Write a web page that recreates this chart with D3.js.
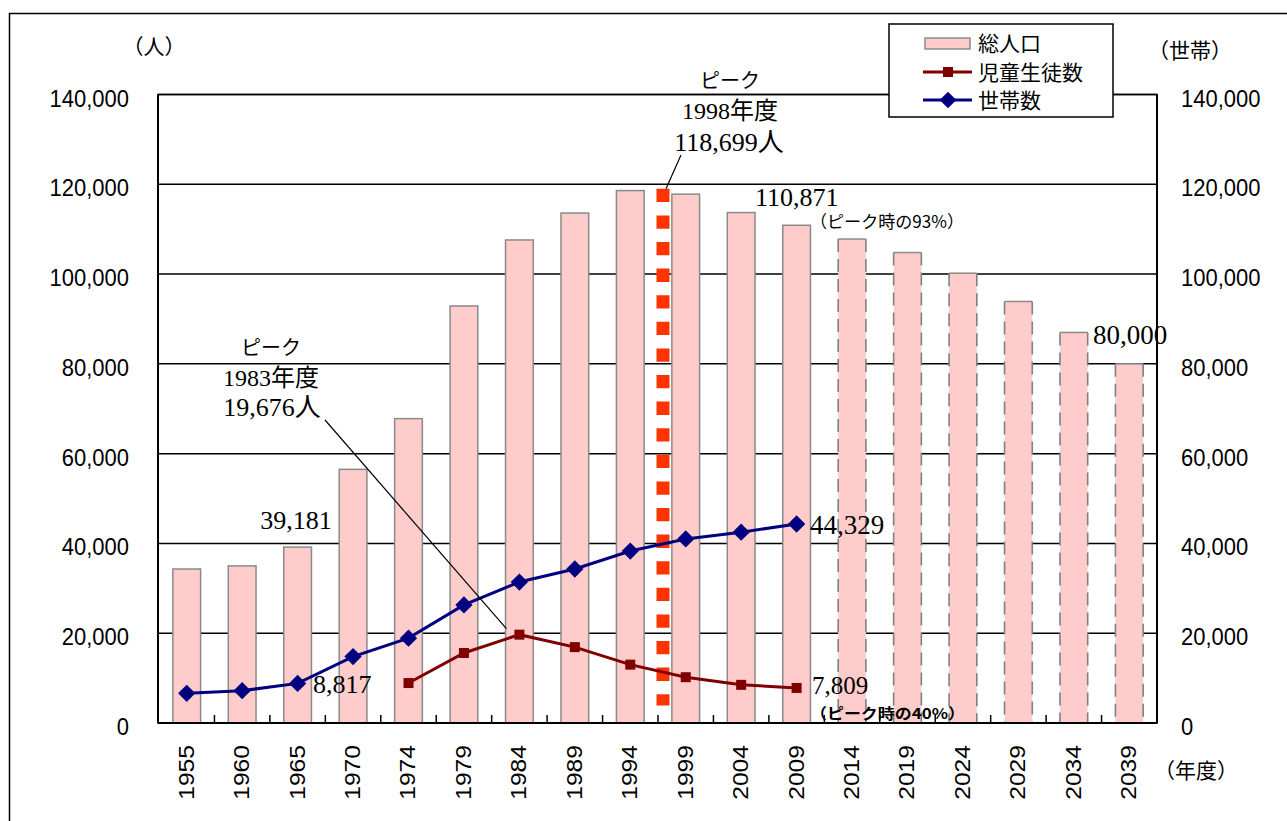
<!DOCTYPE html>
<html lang="ja">
<head>
<meta charset="utf-8">
<script src="https://cdn.jsdelivr.net/npm/d3@7"></script>
<style>
  html, body { margin: 0; padding: 0; background: #fff; }
  svg { display: block; }
  .sans { font-family: "Liberation Sans", Arial, "Noto Sans CJK JP", sans-serif; }
  .jp { font-family: "Noto Sans CJK JP", sans-serif; }
  .serif { font-family: "Liberation Serif", "Times New Roman", "Noto Sans CJK JP", serif; }
</style>
</head>
<body>
<svg id="chart" width="1287" height="821"></svg>
<script>
// 年度（5年ごと）
const years = ["1955","1960","1965","1970","1974","1979","1984","1989","1994","1999",
               "2004","2009","2014","2019","2024","2029","2034","2039"];
// 総人口（人） 2014年度以降は推計
const population = [34300, 35000, 39181, 56500, 67800, 92900, 107600, 113600, 118600, 117800,
                    113700, 110871, 107800, 104800, 100200, 93900, 87000, 80000];
const firstProjected = "2014";
// 児童生徒数（人）
const studentYears = ["1974","1979","1984","1989","1994","1999","2004","2009"];
const students = [8900, 15600, 19676, 16900, 13000, 10200, 8500, 7809];
// 世帯数（世帯）
const householdYears = ["1955","1960","1965","1970","1974","1979","1984","1989","1994","1999","2004","2009"];
const households = [6600, 7200, 8817, 14800, 18900, 26300, 31400, 34300, 38300, 41000, 42500, 44329];
// 目盛
const yTicks = [0, 20000, 40000, 60000, 80000, 100000, 120000, 140000];

const svg = d3.select("#chart");
const M = { left: 158, right: 1157, top: 94.5, bottom: 723 };

const x = d3.scaleBand().domain(years).range([M.left + 1, M.right])
  .paddingInner(0.5).paddingOuter(0.25);
const xc = d => x(d) + x.bandwidth() / 2;
const y = d3.scaleLinear().domain([0, 140000]).range([M.bottom, M.top]);
const fmt = d3.format(",");

// 外枠
svg.append("rect").attr("x", 9.5).attr("y", 13.5).attr("width", 1300).attr("height", 900)
  .attr("fill", "none").attr("stroke", "#000").attr("stroke-width", 1.5);

// 横グリッド
svg.append("g").selectAll("line").data(yTicks.slice(1)).join("line")
  .attr("x1", M.left).attr("x2", M.right)
  .attr("y1", d => y(d)).attr("y2", d => y(d))
  .attr("stroke", "#000").attr("stroke-width", 1.5);

// 総人口の棒
const bars = svg.append("g");
const isProjected = d => +d >= +firstProjected;
const barData = years.map((yr, i) => ({ yr, v: population[i] }));
bars.selectAll("rect").data(barData).join("rect")
  .attr("x", d => x(d.yr)).attr("width", x.bandwidth())
  .attr("y", d => y(d.v)).attr("height", d => y(0) - y(d.v))
  .attr("fill", "#ffcccc")
  .attr("stroke", d => isProjected(d.yr) ? "none" : "#8a8a8a")
  .attr("stroke-width", 1.5);
// 推計値の棒：側面を破線
const proj = barData.filter(d => isProjected(d.yr));
bars.selectAll("line.top").data(proj).join("line").attr("class", "top")
  .attr("x1", d => x(d.yr)).attr("x2", d => x(d.yr) + x.bandwidth())
  .attr("y1", d => y(d.v)).attr("y2", d => y(d.v))
  .attr("stroke", "#8a8a8a").attr("stroke-width", 1.5);
["l", "r"].forEach(side => {
  bars.selectAll("line.side" + side).data(proj).join("line").attr("class", "side" + side)
    .attr("x1", d => x(d.yr) + (side === "r" ? x.bandwidth() : 0))
    .attr("x2", d => x(d.yr) + (side === "r" ? x.bandwidth() : 0))
    .attr("y1", d => y(d.v)).attr("y2", y(0))
    .attr("stroke", "#808080").attr("stroke-width", 1.6)
    .attr("stroke-dasharray", "13,7");
});

// 軸線
svg.append("rect").attr("x", M.left).attr("y", M.top)
  .attr("width", M.right - M.left).attr("height", M.bottom - M.top)
  .attr("fill", "none").attr("stroke", "#000").attr("stroke-width", 1.5);
svg.append("line").attr("x1", M.left).attr("x2", M.left).attr("y1", M.top).attr("y2", M.bottom)
  .attr("stroke", "#000").attr("stroke-width", 2);
svg.append("line").attr("x1", M.right).attr("x2", M.right).attr("y1", M.top).attr("y2", M.bottom)
  .attr("stroke", "#000").attr("stroke-width", 2);
svg.append("line").attr("x1", M.left).attr("x2", M.right).attr("y1", M.bottom).attr("y2", M.bottom)
  .attr("stroke", "#000").attr("stroke-width", 2);

// 横軸の目盛（区切り）
const step = x.step();
svg.append("g").selectAll("line").data(years.slice(1)).join("line")
  .attr("x1", d => xc(d) - step / 2).attr("x2", d => xc(d) - step / 2)
  .attr("y1", M.bottom).attr("y2", M.bottom - 8)
  .attr("stroke", "#000").attr("stroke-width", 1.5);

// 縦軸ラベル（左右）
const tickG = svg.append("g").attr("class", "sans").attr("font-size", 22).attr("fill", "#000");
tickG.selectAll("text.l").data(yTicks).join("text").attr("class", "l")
  .attr("text-anchor", "end")
  .attr("transform", d => `translate(129,${y(d) + 12}) scale(1,1.12)`)
  .text(d => fmt(d));
tickG.selectAll("text.r").data(yTicks).join("text").attr("class", "r")
  .attr("text-anchor", "start")
  .attr("transform", d => `translate(1181,${y(d) + 12}) scale(1,1.12)`)
  .text(d => fmt(d));
// 横軸ラベル
tickG.selectAll("text.x").data(years).join("text").attr("class", "x")
  .attr("text-anchor", "end").attr("dy", "0.36em")
  .attr("transform", d => `translate(${xc(d) - 1},745) rotate(-90) scale(1.12,1)`)
  .text(d => d);

// 単位
const unitG = svg.append("g").attr("class", "jp").attr("font-size", 21).attr("fill", "#000")
  .attr("text-anchor", "middle");
unitG.append("text").attr("x", 154).attr("y", 54).text("（人）");
unitG.append("text").attr("x", 1190).attr("y", 58).text("（世帯）");
unitG.append("text").attr("x", 1196).attr("y", 778).text("（年度）");

// ピーク年度の破線
const peakX = xc("1999") - step / 2 + 5;
svg.append("line").attr("x1", peakX).attr("x2", peakX)
  .attr("y1", y(119000)).attr("y2", y(3900))
  .attr("stroke", "#ff3300").attr("stroke-width", 13)
  .attr("stroke-dasharray", "13.3,13.3");

// 世帯数
const hh = householdYears.map((yr, i) => ({ yr, v: households[i] }));
svg.append("path").datum(hh)
  .attr("d", d3.line().x(d => xc(d.yr)).y(d => y(d.v)))
  .attr("fill", "none").attr("stroke", "#000080").attr("stroke-width", 3);
svg.append("g").selectAll("path").data(hh).join("path")
  .attr("transform", d => `translate(${xc(d.yr)},${y(d.v)}) rotate(45)`)
  .attr("d", d3.symbol(d3.symbolSquare, 150)())
  .attr("fill", "#000080");

// 児童生徒数
const st = studentYears.map((yr, i) => ({ yr, v: students[i] }));
svg.append("path").datum(st)
  .attr("d", d3.line().x(d => xc(d.yr)).y(d => y(d.v)))
  .attr("fill", "none").attr("stroke", "#800000").attr("stroke-width", 3);
svg.append("g").selectAll("rect").data(st).join("rect")
  .attr("x", d => xc(d.yr) - 5).attr("y", d => y(d.v) - 5)
  .attr("width", 10).attr("height", 10).attr("fill", "#800000");

// 注記
const ann = svg.append("g").attr("fill", "#000");
const t = (cls, size, xx, yy, anchor, txt) =>
  ann.append("text").attr("class", cls).attr("font-size", size)
    .attr("x", xx).attr("y", yy).attr("text-anchor", anchor).text(txt);

// 総人口ピーク
t("jp", 20, 730, 88, "middle", "ピーク");
t("serif", 24, 730, 119, "middle", "1998年度");
t("serif", 26, 729, 151, "middle", fmt(118699) + "人");
ann.append("line").attr("x1", 681).attr("y1", 155).attr("x2", peakX + 3).attr("y2", y(119000))
  .attr("stroke", "#000").attr("stroke-width", 1.2);

t("serif", 26, 755, 206, "start", fmt(population[years.indexOf("2009")]));
t("jp", 17, 810, 228, "start", "（ピーク時の93%）").attr("textLength", 154).attr("lengthAdjust", "spacingAndGlyphs");
t("serif", 27, 1093, 344, "start", fmt(population[years.indexOf("2039")]));
t("serif", 26, 296, 529, "middle", fmt(population[years.indexOf("1965")]));

// 児童生徒数ピーク
t("jp", 20, 271, 355, "middle", "ピーク");
t("serif", 24, 271, 386, "middle", "1983年度");
t("serif", 26, 272, 416, "middle", fmt(students[studentYears.indexOf("1984")]) + "人");
ann.append("line").attr("x1", 325).attr("y1", 420)
  .attr("x2", xc("1984") - 13).attr("y2", y(students[studentYears.indexOf("1984")]) - 6)
  .attr("stroke", "#000").attr("stroke-width", 1.2);

t("serif", 25, 812, 694, "start", fmt(students[studentYears.indexOf("2009")]));
t("jp", 15, 810, 719, "start", "（ピーク時の40%）").attr("font-weight", "bold")
  .attr("textLength", 155).attr("lengthAdjust", "spacingAndGlyphs");

t("serif", 26, 313, 693, "start", fmt(households[householdYears.indexOf("1965")]));
t("serif", 27, 810, 534, "start", fmt(households[householdYears.indexOf("2009")]));

// 凡例
const lg = svg.append("g");
lg.append("rect").attr("x", 889).attr("y", 24).attr("width", 224).attr("height", 93)
  .attr("fill", "#fff").attr("stroke", "#000").attr("stroke-width", 1.5);
lg.append("rect").attr("x", 925).attr("y", 38).attr("width", 45).attr("height", 11)
  .attr("fill", "#ffcccc").attr("stroke", "#8a8a8a").attr("stroke-width", 1.5);
lg.append("line").attr("x1", 923).attr("x2", 972).attr("y1", 72).attr("y2", 72)
  .attr("stroke", "#800000").attr("stroke-width", 3);
lg.append("rect").attr("x", 943).attr("y", 67).attr("width", 10).attr("height", 10).attr("fill", "#800000");
lg.append("line").attr("x1", 923).attr("x2", 972).attr("y1", 100).attr("y2", 100)
  .attr("stroke", "#000080").attr("stroke-width", 3);
lg.append("path").attr("transform", "translate(948,100) rotate(45)")
  .attr("d", d3.symbol(d3.symbolSquare, 140)()).attr("fill", "#000080");
const lgText = lg.append("g").attr("class", "jp").attr("font-size", 21).attr("fill", "#000");
[["総人口", 51], ["児童生徒数", 80], ["世帯数", 108]].forEach(([s, yy]) =>
  lgText.append("text").attr("x", 978).attr("y", yy).text(s));
</script>
</body>
</html>
